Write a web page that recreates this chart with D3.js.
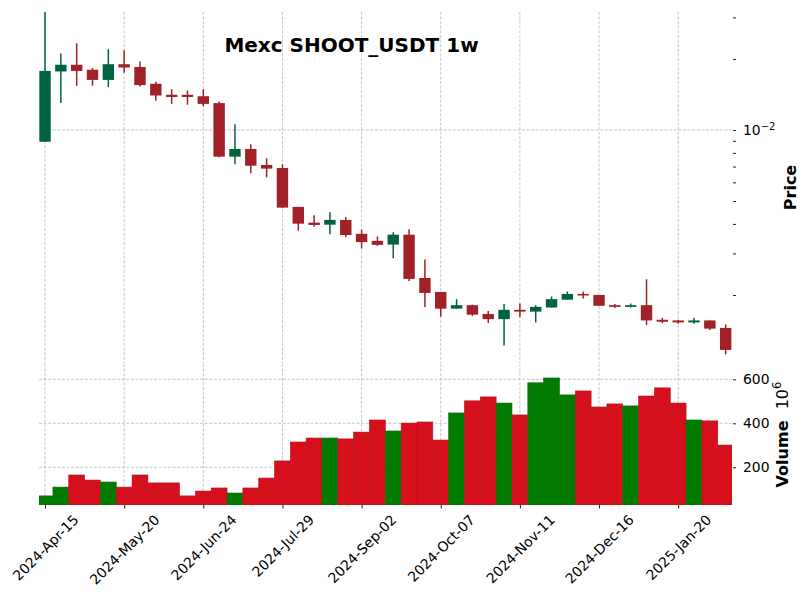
<!DOCTYPE html>
<html><head><meta charset="utf-8">
<script src="https://cdn.jsdelivr.net/npm/d3@7"></script>
<style>body{margin:0;background:#fff}</style>
</head><body><div id="chart"></div>
<script>
const dates = ["2024-04-15","2024-04-22","2024-04-29","2024-05-06","2024-05-13","2024-05-20","2024-05-27","2024-06-03","2024-06-10","2024-06-17","2024-06-24","2024-07-01","2024-07-08","2024-07-15","2024-07-22","2024-07-29","2024-08-05","2024-08-12","2024-08-19","2024-08-26","2024-09-02","2024-09-09","2024-09-16","2024-09-23","2024-09-30","2024-10-07","2024-10-14","2024-10-21","2024-10-28","2024-11-04","2024-11-11","2024-11-18","2024-11-25","2024-12-02","2024-12-09","2024-12-16","2024-12-23","2024-12-30","2025-01-06","2025-01-13","2025-01-20","2025-01-27","2025-02-03","2025-02-10"];
const openP  = [0.00892,0.0177,0.0189,0.0180,0.0163,0.0190,0.0185,0.0157,0.0141,0.0141,0.0139,0.0130,0.00771,0.00831,0.00711,0.00690,0.00472,0.00405,0.00397,0.00416,0.00363,0.00339,0.00327,0.00360,0.00236,0.00206,0.00175,0.00181,0.00166,0.00158,0.00173,0.00170,0.00177,0.00191,0.00202,0.00200,0.00181,0.00178,0.00181,0.00157,0.00156,0.00153,0.00156,0.00145];
const highP  = [0.0316,0.0211,0.0233,0.0183,0.0220,0.0217,0.0195,0.0160,0.0149,0.0147,0.0149,0.0132,0.01057,0.00870,0.00759,0.00716,0.00473,0.00435,0.00448,0.00428,0.00378,0.00354,0.00369,0.00380,0.00283,0.00206,0.00192,0.00182,0.00171,0.00183,0.00184,0.00181,0.00197,0.00207,0.00207,0.00200,0.00183,0.00184,0.00233,0.00160,0.00157,0.00160,0.00156,0.00150];
const lowP   = [0.00890,0.0130,0.0154,0.0154,0.0152,0.0175,0.0153,0.0133,0.0129,0.0128,0.0126,0.00766,0.00716,0.00656,0.00630,0.00468,0.00374,0.00389,0.00362,0.00351,0.00315,0.00323,0.00286,0.00229,0.00178,0.00162,0.00175,0.00163,0.00152,0.00122,0.00161,0.00153,0.00177,0.00191,0.00193,0.00180,0.00176,0.00177,0.00149,0.00152,0.00151,0.00151,0.00142,0.00112];
const closeP = [0.0178,0.0189,0.0178,0.0163,0.0190,0.0184,0.0155,0.0140,0.0138,0.0138,0.0129,0.00771,0.00831,0.00706,0.00686,0.00469,0.00401,0.00396,0.00416,0.00359,0.00335,0.00326,0.00360,0.00234,0.00204,0.00175,0.00181,0.00165,0.00158,0.00173,0.00170,0.00178,0.00192,0.00202,0.00199,0.00180,0.00178,0.00181,0.00156,0.00154,0.00153,0.00156,0.00144,0.00117];
const volume = [70,110,165,142,133,110,165,129,129,70,92,106,83,106,151,229,315,333,333,329,360,415,365,401,406,324,447,502,520,492,438,584,606,529,547,474,488,479,524,561,492,415,411,301];
const xTickDates  = ["2024-04-15","2024-05-20","2024-06-24","2024-07-29","2024-09-02","2024-10-07","2024-11-11","2024-12-16","2025-01-20"];
const xTickLabels = ["2024-Apr-15","2024-May-20","2024-Jun-24","2024-Jul-29","2024-Sep-02","2024-Oct-07","2024-Nov-11","2024-Dec-16","2025-Jan-20"];
const priceTicks = [0.002,0.003,0.004,0.005,0.006,0.007,0.008,0.009,0.01,0.02,0.03];
const priceLabeled = [0.01];
const volTicks = [200,400,600];
const title = "Mexc SHOOT_USDT 1w";

const W=809,H=600;
const FONT = "DejaVu Sans";
const TFS = 13.9;
const svg = d3.select('#chart').append('svg').attr('width',W).attr('height',H)
  .style('font-family',FONT);
const left=39,right=732, mainTop=12, mainBot=363, volTop=364, volBot=505, axisX=733;
const x = d3.scaleLinear().domain([-0.38,43.4]).range([left,right]);
const y = d3.scaleLog().domain([0.0010297,0.03162]).range([mainBot,mainTop]);
const yv = d3.scaleLinear().domain([28.6,669.5]).range([volBot,volTop]);

const UP='#006340', DOWN='#A02128', VUP='#007a00', VDOWN='#d50f1b';
const gridColor='#b8b8b8';

const defs = svg.append('defs');
defs.append('clipPath').attr('id','cmain').append('rect').attr('x',left).attr('y',mainTop).attr('width',right-left).attr('height',mainBot-mainTop);
defs.append('clipPath').attr('id','cvol').append('rect').attr('x',left).attr('y',volTop).attr('width',right-left).attr('height',volBot-volTop);

const tickIdx = xTickDates.map(d=>dates.indexOf(d));

// grids
const grid = svg.append('g').attr('stroke',gridColor).attr('stroke-width',0.8).attr('stroke-dasharray','3,1.6').attr('fill','none');
tickIdx.forEach(i=>{
  grid.append('line').attr('x1',x(i)).attr('x2',x(i)).attr('y1',mainTop).attr('y2',mainBot);
  grid.append('line').attr('x1',x(i)).attr('x2',x(i)).attr('y1',volTop).attr('y2',volBot);
});
priceLabeled.forEach(v=>grid.append('line').attr('x1',left).attr('x2',right).attr('y1',y(v)).attr('y2',y(v)));
volTicks.forEach(v=>grid.append('line').attr('x1',left).attr('x2',right).attr('y1',yv(v)).attr('y2',yv(v)));

// volume bars
const vg = svg.append('g').attr('clip-path','url(#cvol)');
const bw = x(1)-x(0);
vg.selectAll('rect').data(volume).join('rect')
  .attr('x',(d,i)=>x(i)-bw/2).attr('width',bw)
  .attr('y',d=>yv(d)).attr('height',d=>volBot-yv(d))
  .attr('fill',(d,i)=>closeP[i]>=openP[i]?VUP:VDOWN)
  .attr('stroke',(d,i)=>closeP[i]>=openP[i]?'#0a6e0a':'#b8141f').attr('stroke-width',0.6);

// candles
const cg = svg.append('g').attr('clip-path','url(#cmain)');
const cw = bw*0.72;
dates.forEach((d,i)=>{
  const col = closeP[i]>=openP[i]?UP:DOWN;
  cg.append('line').attr('x1',x(i)).attr('x2',x(i)).attr('y1',y(highP[i])).attr('y2',y(lowP[i]))
    .attr('stroke',col).attr('stroke-width',1.5);
  const y0=y(Math.max(openP[i],closeP[i])), y1=y(Math.min(openP[i],closeP[i]));
  cg.append('rect').attr('x',x(i)-cw/2).attr('width',cw).attr('y',y0).attr('height',Math.max(1.2,y1-y0))
    .attr('fill',col);
});

// price axis
const pa = svg.append('g').attr('transform',`translate(${axisX},0)`)
  .call(d3.axisRight(y).tickValues(priceTicks).tickSize(3).tickPadding(7).tickFormat(d=>priceLabeled.includes(d)?'10':''));
pa.select('.domain').remove();
pa.selectAll('.tick line').attr('stroke','#222').attr('stroke-width',1);
pa.selectAll('.tick text').attr('font-size',TFS).attr('font-family',FONT).attr('fill','#000')
  .each(function(d){ if(priceLabeled.includes(d)){ d3.select(this).append('tspan').attr('dy','-0.45em').attr('font-size',10).text('\u22122'); } });

// volume axis
const va = svg.append('g').attr('transform',`translate(${axisX},0)`)
  .call(d3.axisRight(yv).tickValues(volTicks).tickSize(3).tickPadding(7));
va.select('.domain').remove();
va.selectAll('.tick line').attr('stroke','#222');
va.selectAll('.tick text').attr('font-size',TFS).attr('font-family',FONT).attr('fill','#000');

// x axis
const xa = svg.append('g').attr('transform',`translate(0,${volBot})`)
  .call(d3.axisBottom(x).tickValues(tickIdx).tickSize(3.5).tickFormat((d,k)=>xTickLabels[k]));
xa.select('.domain').remove();
xa.selectAll('.tick line').attr('stroke','#222');
xa.selectAll('.tick text').attr('font-size',TFS).attr('font-family',FONT).attr('fill','#000')
  .attr('text-anchor','middle').attr('dy',null).attr('y',null)
  .each(function(){
    const L=this.getComputedTextLength(), h=15;
    const bh=(L+h)*Math.SQRT1_2;
    d3.select(this).attr('dominant-baseline','central')
      .attr('transform',`translate(0,${7+bh/2}) rotate(-45)`);
  });

// title
svg.append('text').attr('x',351.5).attr('y',52).attr('text-anchor','middle')
  .attr('font-size',20).attr('font-weight','bold').attr('fill','#000').text(title);

// y labels
svg.append('text').attr('transform',`translate(796,${(mainTop+mainBot)/2}) rotate(-90)`)
  .attr('text-anchor','middle').attr('font-size',16).attr('font-weight','bold').text('Price');
const vl = svg.append('text').attr('transform',`translate(788,${(volTop+volBot)/2}) rotate(-90)`)
  .attr('text-anchor','middle').attr('font-size',16);
vl.append('tspan').attr('font-weight','bold').text('Volume');
vl.append('tspan').attr('font-size',16).text('\u2002\u200910');
vl.append('tspan').attr('font-size',11.5).attr('dy','-0.6em').text('6');
</script></body></html>
